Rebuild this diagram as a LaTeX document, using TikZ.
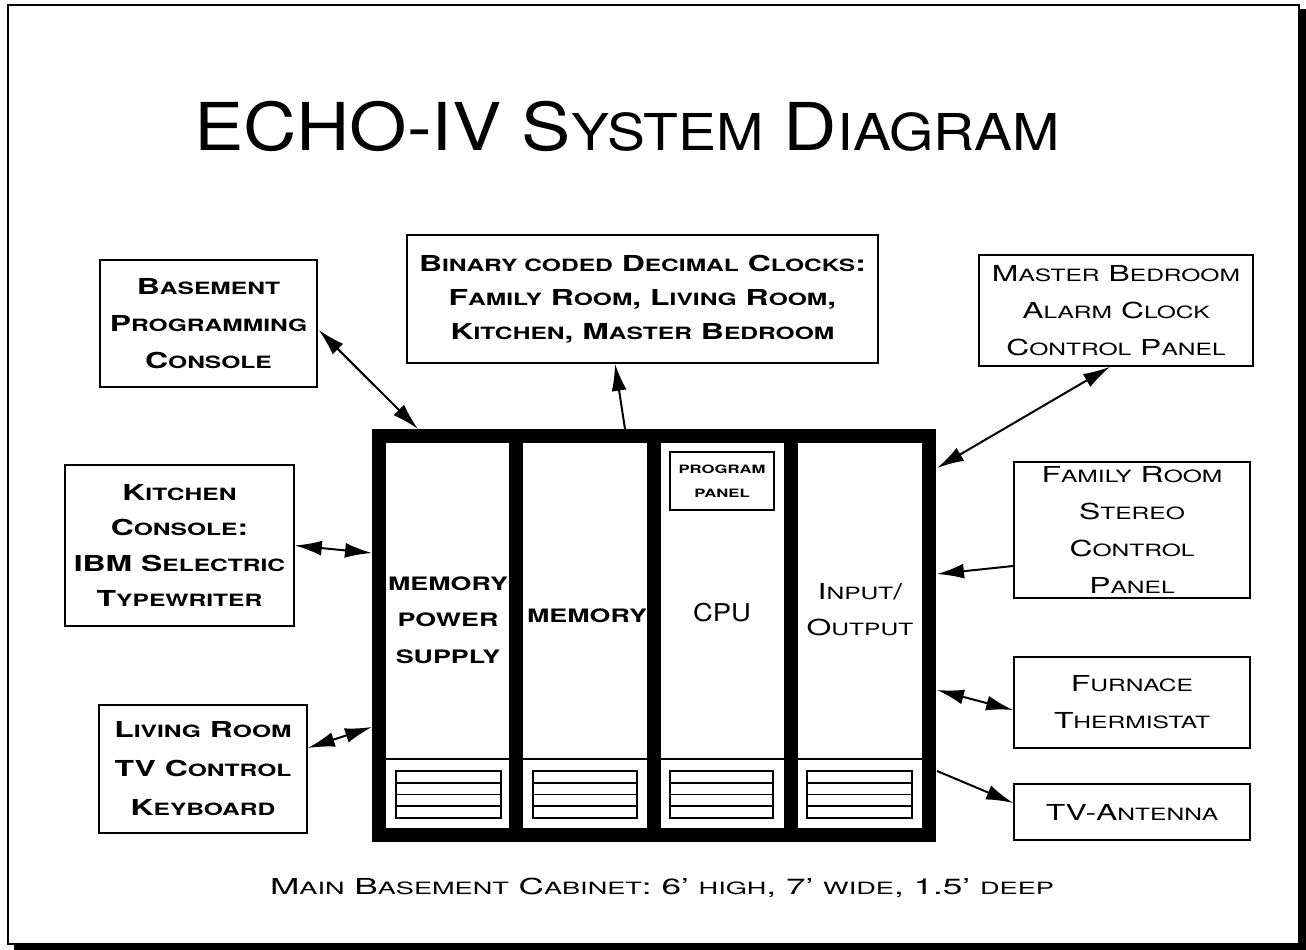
\documentclass[tikz,border=0pt]{standalone}
\usepackage{fontspec}
\setmainfont{TeX Gyre Heros}
\newfontfamily\boxfont[FakeStretch=1.45]{TeX Gyre Heros}
\newfontfamily\titlefont[FakeStretch=1.12]{TeX Gyre Heros}
\newfontfamily\capfont[FakeStretch=1.6]{TeX Gyre Heros}
\makeatletter
\newcommand\smc[1]{{\fontsize{\fpeval{0.77*\f@size}}{\f@baselineskip}\selectfont\MakeUppercase{#1}}}
\makeatother
\usetikzlibrary{arrows.meta,calc}
\begin{document}
\begin{tikzpicture}[x=1pt,y=-1pt,
  box/.style={draw,line width=1.6pt,inner sep=0pt,align=center,
    font={\boxfont\fontsize{22}{37}\selectfont}},
  boldbox/.style={box,font={\boxfont\bfseries\fontsize{22}{37}\selectfont}},
  coltext/.style={inner sep=0pt,align=center,font={\boxfont\bfseries\fontsize{18.5}{36.5}\selectfont}},
  colreg/.style={inner sep=0pt,align=center,font={\boxfont\fontsize{22}{36}\selectfont}},
  cab/.style={draw,line width=14pt,minimum width=550pt,minimum height=399pt,inner sep=0pt},
  link/.style={line width=2pt,{Latex[length=27pt,width=15pt]}-{Latex[length=27pt,width=15pt]}},
  tolink/.style={line width=2pt,-{Latex[length=27pt,width=15pt]}},
  vent/.style={line width=1.6pt}]
\useasboundingbox (0,0) rectangle (1306,950);
\fill[white] (0,0) rectangle (1306,950);
% outer frame with shadow
\draw[line width=1.5pt] (8,5) rectangle (1299,944);
\fill (1299,9) rectangle (1306,950);
\fill (14,943) rectangle (1306,950);
% title
\node[anchor=base,inner sep=0pt,font={\titlefont\fontsize{66}{70}\selectfont}] (title) at (627,150) {ECHO-IV S\smc{ystem} D\smc{iagram}};
% cabinet
\draw[line width=1.5pt] (386,759) -- (923,759);
\foreach \a/\b in {396/501,533/637,670/773,807/912}{
  \draw[vent] (\a,771) rectangle (\b,818);
  \foreach \yy in {783,794.5,806} \draw[line width=1.4pt] (\a,\yy) -- (\b,\yy);
}
\foreach \xx in {516,653.5,790.5} \draw[line width=14pt] (\xx,436) -- (\xx,835);
\node[cab] (cab) at (654,635.5) {};
\node[draw,line width=1.5pt,minimum width=104pt,minimum height=58pt,inner sep=0pt,align=center,
  font={\boxfont\bfseries\fontsize{11.5}{24}\selectfont}] (pp) at (722,481) {PROGRAM\\PANEL};
\node[coltext] (mps) at (448,620) {MEMORY\\POWER\\SUPPLY};
\node[coltext] (mem) at (587,616) {MEMORY};
\node[inner sep=0pt,font={\titlefont\fontsize{24.5}{30}\selectfont}] (cpu) at (722,613) {CPU};
\node[colreg] (io) at (860,610) {I\smc{nput}/\\O\smc{utput}};
% caption
\node[anchor=base,inner sep=0pt,font={\capfont\fontsize{22}{26}\selectfont}] (caption) at (662,894)
  {M\smc{ain} B\smc{asement} C\smc{abinet}: 6’ \smc{high}, 7’ \smc{wide}, 1.5’ \smc{deep}};
% peripheral boxes
\node[boldbox,minimum width=217pt,minimum height=127pt] (basement) at (208.5,323.5)
  {B\smc{asement}\\P\smc{rogramming}\\C\smc{onsole}};
\node[boldbox,minimum width=471pt,minimum height=128pt,font={\boxfont\bfseries\fontsize{22}{34}\selectfont}] (binary) at (642.5,299)
  {B\smc{inary coded} D\smc{ecimal} C\smc{locks}:\\F\smc{amily} R\smc{oom}, L\smc{iving} R\smc{oom},\\K\smc{itchen}, M\smc{aster} B\smc{edroom}};
\node[box,minimum width=274pt,minimum height=111pt] (master) at (1116,310.5)
  {M\smc{aster} B\smc{edroom}\\A\smc{larm} C\smc{lock}\\C\smc{ontrol} P\smc{anel}};
\node[boldbox,minimum width=229pt,minimum height=161pt,font={\boxfont\bfseries\fontsize{22}{35.5}\selectfont}] (kitchen) at (179.5,545.5)
  {K\smc{itchen}\\C\smc{onsole}:\\IBM S\smc{electric}\\T\smc{ypewriter}};
\node[box,minimum width=236pt,minimum height=136pt] (family) at (1132,530)
  {F\smc{amily} R\smc{oom}\\S\smc{tereo}\\C\smc{ontrol}\\P\smc{anel}};
\node[boldbox,minimum width=208pt,minimum height=128pt,font={\boxfont\bfseries\fontsize{22}{39}\selectfont}] (living) at (203,769)
  {L\smc{iving} R\smc{oom}\\TV C\smc{ontrol}\\K\smc{eyboard}};
\node[box,minimum width=236pt,minimum height=91pt] (furnace) at (1132,702.5)
  {F\smc{urnace}\\T\smc{hermistat}};
\node[box,minimum width=236pt,minimum height=56pt] (tv) at (1132,812)
  {TV-A\smc{ntenna}};
% connector end points on the cabinet
\coordinate (c1) at (418,429);
\coordinate (c2) at (625,429);
\coordinate (c3) at (937,468);
\coordinate (c4) at (937,574);
\coordinate (c5) at (937,690);
\coordinate (c6) at (937,771);
\coordinate (c7) at (372,553);
\coordinate (c8) at (372,727);
% connectors
\draw[link] ($(basement.east)+(1,6.5)$) -- (c1);
\draw[tolink] (c2) -- ($(binary.south)+(-27.5,0)$);
\draw[link] ($(master.south)+(-6,0)$) -- (c3);
\draw[tolink] ($(family.west)+(0,36)$) -- (c4);
\draw[link] ($(furnace.west)+(0,7.5)$) -- (c5);
\draw[tolink] (c6) -- ($(tv.west)+(0,-9)$);
\draw[link] (kitchen.east) -- (c7);
\draw[link] ($(living.east)+(0,-21)$) -- (c8);
\end{tikzpicture}
\end{document}
